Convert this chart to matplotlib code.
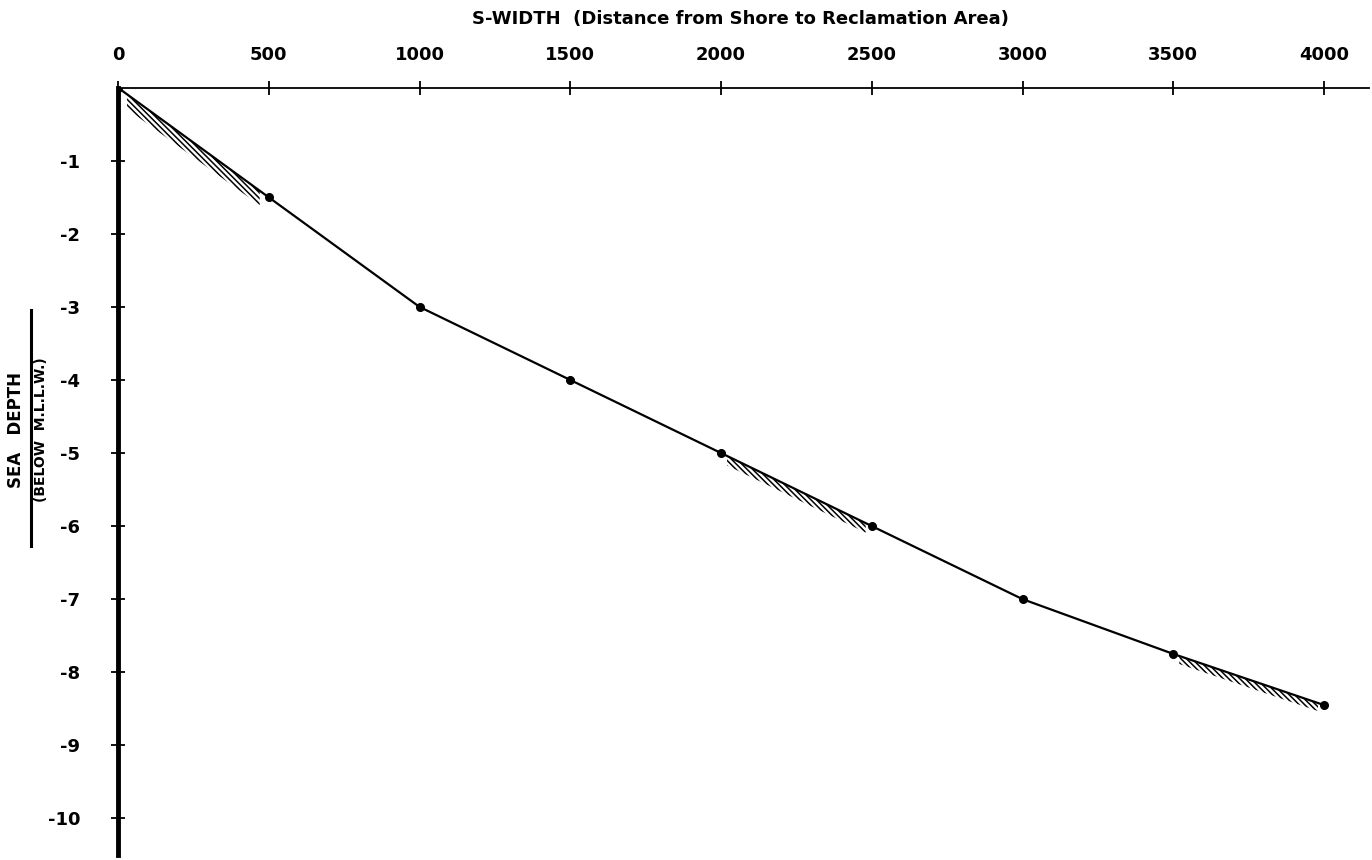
import numpy as np
import matplotlib
matplotlib.use("Agg")
from matplotlib import pyplot as plt

plt.rcParams["hatch.linewidth"] = 1.1

# data
width = [0, 500, 1000, 1500, 2000, 2500, 3000, 3500, 4000]
depth = [0, -1.5, -3.0, -4.0, -5.0, -6.0, -7.0, -7.75, -8.45]

x_ticks = [0, 500, 1000, 1500, 2000, 2500, 3000, 3500, 4000]
x_labels = ["0", "500", "1000", "1500", "2000", "2500", "3000", "3500", "4000"]
y_ticks = [-1, -2, -3, -4, -5, -6, -7, -8, -9, -10]
y_labels = ["-1", "-2", "-3", "-4", "-5", "-6", "-7", "-8", "-9", "-10"]

# segments with hatching under the curve (start, end, band thickness)
hatch_spans = [(30, 470, 0.2), (2020, 2480, 0.13), (3520, 3980, 0.11)]

fig = plt.figure(figsize=(13.72, 8.6), dpi=100)
ax = fig.add_axes([0.086, 0.006, 0.912, 0.892])

ax.plot(width, depth, color="black", lw=1.6, marker="o", ms=5.5, zorder=3)

for x0, x1, th in hatch_spans:
    xs = np.linspace(x0, x1, 30)
    ys = np.interp(xs, width, depth)
    ax.fill_between(xs, ys, ys - th, facecolor="none", edgecolor="black",
                    hatch="\\" * 6, lw=0, zorder=2)

ax.set_xlim(0, 4150)
ax.set_ylim(-10.5, 0)

ax.spines["bottom"].set_visible(False)
ax.spines["right"].set_visible(False)
ax.spines["top"].set_linewidth(1.3)
ax.spines["left"].set_linewidth(3.5)

ax.xaxis.tick_top()
ax.set_xticks(x_ticks)
ax.set_xticklabels(x_labels, fontsize=13, fontweight="bold")
ax.set_yticks(y_ticks)
ax.set_yticklabels(y_labels, fontsize=13, fontweight="bold")
ax.tick_params(axis="x", direction="inout", length=10, width=1.3, pad=12)
ax.tick_params(axis="y", direction="inout", length=10, width=1.3, pad=22)

fig.text(0.54, 0.978, "S-WIDTH  (Distance from Shore to Reclamation Area)",
         ha="center", va="center", fontsize=13, fontweight="bold")

# y axis label: two lines separated by a rule
fig.text(0.012, 0.50, "SEA   DEPTH", rotation=90, ha="center", va="center",
         fontsize=12, fontweight="bold")
fig.text(0.030, 0.50, "(BELOW  M.L.L.W.)", rotation=90, ha="center", va="center",
         fontsize=10, fontweight="bold")
fig.add_artist(plt.Line2D([0.0225, 0.0225], [0.365, 0.64], color="black", lw=2.2,
                          transform=fig.transFigure))

fig.savefig("out.png", dpi=100, facecolor="white")
